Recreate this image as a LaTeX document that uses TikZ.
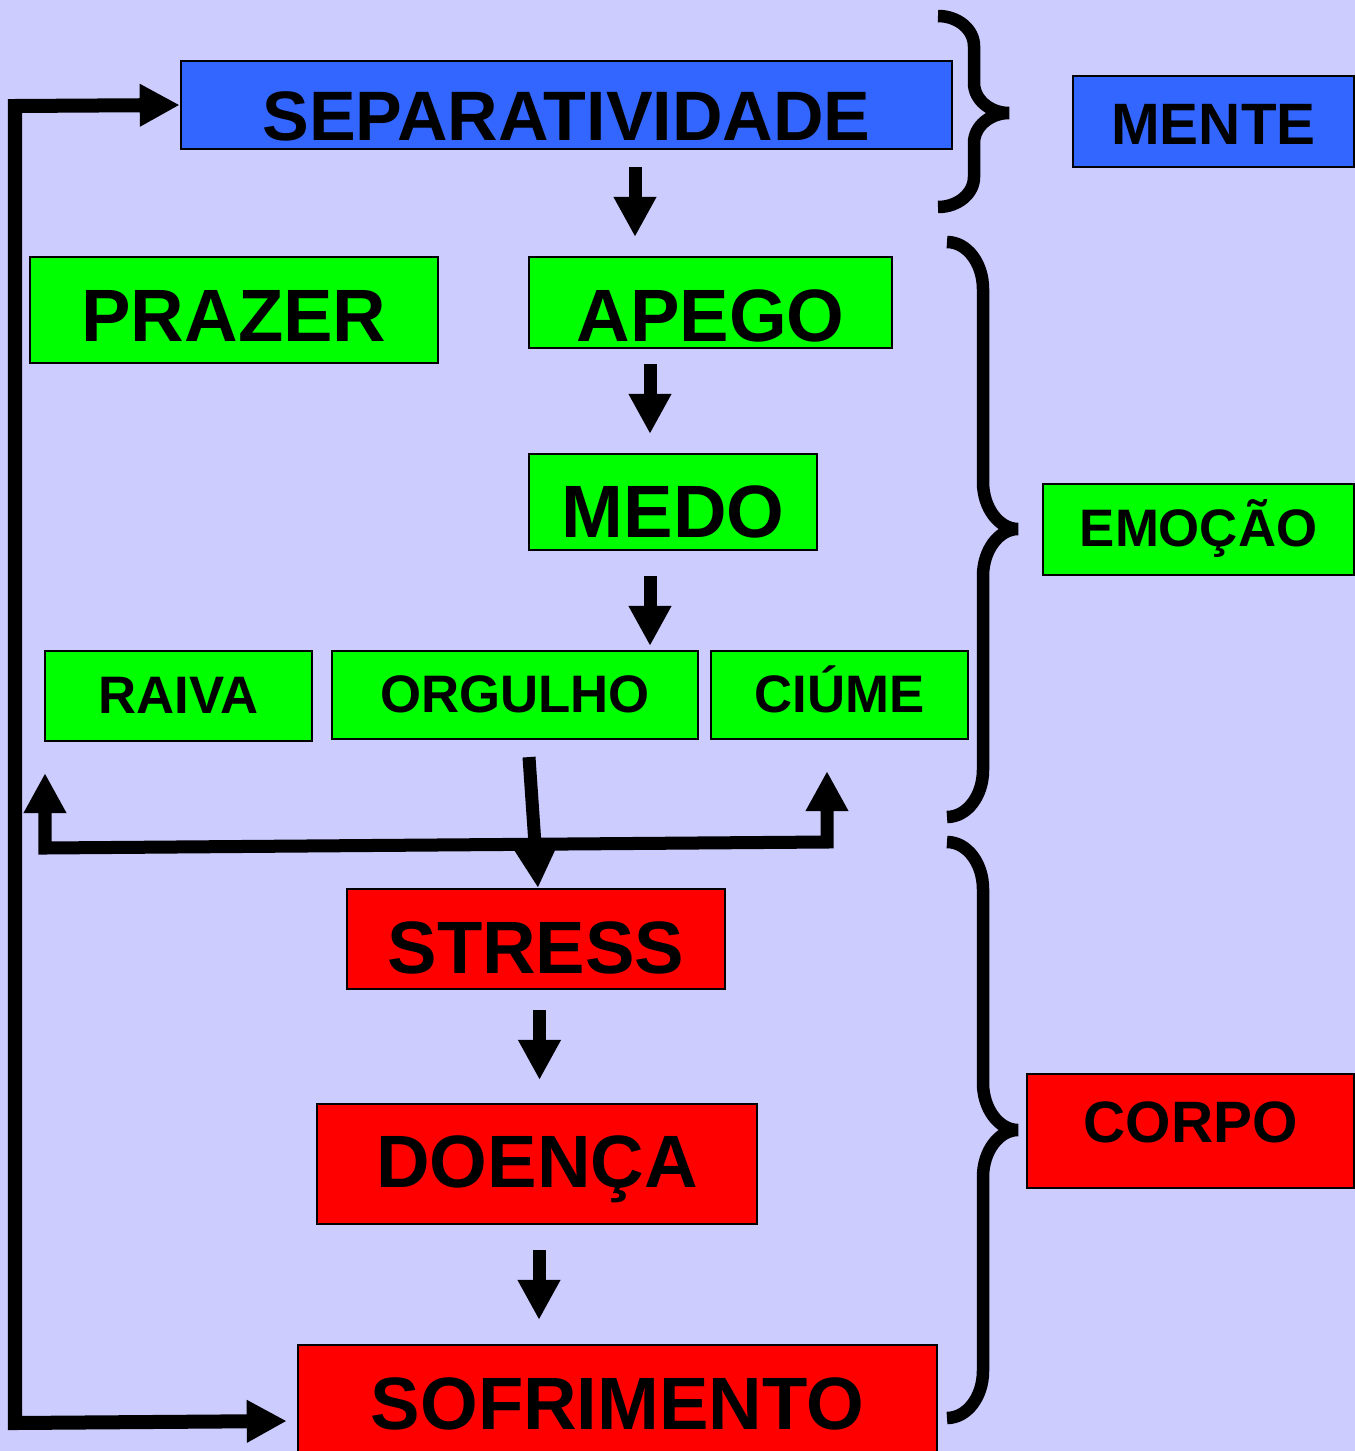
\documentclass[tikz,border=0pt]{standalone}
\usepackage{fontspec}
\setmainfont{Liberation Sans}
\usetikzlibrary{calc,arrows.meta}
\definecolor{fundo}{RGB}{204,204,255}
\definecolor{azul}{RGB}{51,102,255}
\definecolor{verde}{RGB}{0,255,0}
\definecolor{vermelho}{RGB}{255,0,0}
\def\sidebrace(#1:#2:#3:#4:#5){\draw[chave] (#1,#2) .. controls ({#1+20},#2) and ({#1+36},{#2+0.45*#5}) .. ({#1+36},{#2+#5}) -- ({#1+36},{#3-#5}) .. controls ({#1+36},{#3-0.45*#5}) and ({#1+52},#3) .. ({#1+71},#3) .. controls ({#1+52},#3) and ({#1+36},{#3+0.45*#5}) .. ({#1+36},{#3+#5}) -- ({#1+36},{#4-#5}) .. controls ({#1+36},{#4-0.45*#5}) and ({#1+20},#4) .. (#1,#4);}

\begin{document}
\begin{tikzpicture}[x=0.01cm, y=-0.01cm,
		caixa/.style={draw=black, line width=0.6pt, inner sep=0pt, text depth=0pt},
		letragrande/.style={font=\bfseries\fontsize{21.1pt}{25pt}\selectfont},
		letramedia/.style={font=\bfseries\fontsize{16.6pt}{20pt}\selectfont},
		letrapequena/.style={font=\bfseries\fontsize{15pt}{18pt}\selectfont},
		seta/.style={line width=0.13cm, -{Triangle[length=0.4cm,width=0.4cm]}},
		setas/.style={line width=0.13cm, line join=miter, {Triangle[length=0.4cm,width=0.4cm]}-{Triangle[length=0.4cm,width=0.4cm]}},
		chave/.style={line width=0.125cm}]
		%%%%% START %%%%%
		
		\fill[fundo] (0,0) rectangle (1355,1451);
		\useasboundingbox (0,0) rectangle (1355,1451);
		
		% chaves
		\sidebrace(938:16:113:207:30);
		\sidebrace(947:242:529:817:47);
		\sidebrace(947:842:1130:1418:47);
		
		% mente
		\node[caixa, fill=azul, font=\bfseries\fontsize{19.9pt}{24pt}\selectfont, minimum width=7.71cm, minimum height=0.88cm, text height=0.71cm] (sep) at (566.5,105) {SEPARATIVIDADE};
		\node[caixa, fill=azul, letramedia, minimum width=2.81cm, minimum height=0.91cm, text height=0.455cm] (mente) at (1213.5,121.5) {MENTE};
		
		% emocao
		\node[caixa, fill=verde, letragrande, minimum width=4.08cm, minimum height=1.06cm, text height=0.624cm] (prazer) at (234,310) {PRAZER};
		\node[caixa, fill=verde, letragrande, minimum width=3.63cm, minimum height=0.91cm, text height=0.774cm] (apego) at (710.5,302.5) {APEGO};
		\node[caixa, fill=verde, letragrande, minimum width=2.88cm, minimum height=0.96cm, text height=0.714cm] (medo) at (673,502) {MEDO};
		\node[caixa, fill=verde, letrapequena, minimum width=2.67cm, minimum height=0.90cm, text height=0.375cm, text depth=0.02cm] (raiva) at (178.5,696) {RAIVA};
		\node[caixa, fill=verde, letrapequena, minimum width=3.66cm, minimum height=0.88cm, text height=0.375cm, text depth=0.02cm] (orgulho) at (515,695) {ORGULHO};
		\node[caixa, fill=verde, letrapequena, minimum width=2.57cm, minimum height=0.88cm, text height=0.375cm, text depth=0.02cm] (ciume) at (839.5,695) {CIÚME};
		\node[caixa, fill=verde, letrapequena, minimum width=3.11cm, minimum height=0.91cm, text height=0.375cm, text depth=0.03cm] (emocao) at (1198.5,529.5) {EMOÇÃO};
		
		% corpo
		\node[caixa, fill=vermelho, letragrande, minimum width=3.78cm, minimum height=1.00cm, text height=0.694cm] (stress) at (536,939) {STRESS};
		\node[caixa, fill=vermelho, letragrande, minimum width=4.40cm, minimum height=1.20cm, text height=0.524cm, text depth=0.05cm] (doenca) at (537,1164) {DOENÇA};
		\node[caixa, fill=vermelho, letragrande, minimum width=6.39cm, minimum height=1.20cm, text height=0.524cm, text depth=0.03cm] (sofrimento) at (617.5,1405) {SOFRIMENTO};
		\node[caixa, fill=vermelho, letramedia, minimum width=3.27cm, minimum height=1.14cm, text height=0.415cm, text depth=0.18cm] (corpo) at (1190.5,1131) {CORPO};
		
		% setas
		\draw[seta] ($(sep.south)+(68.5,17)$) -- ($(apego.north)+(-75.5,-19)$);
		\draw[seta] ($(apego.south)+(-60.5,15)$) -- ($(medo.north)+(-23,-19)$);
		\draw[seta] ($(medo.south)+(-23,25)$) -- ($(orgulho.north)+(135,-4)$);
		\draw[seta] ($(orgulho.south)+(14,17)$) -- ($(stress.north)+(2,0)$);
		\draw[seta] ($(stress.south)+(3.5,20)$) -- ($(doenca.north)+(2.5,-23)$);
		\draw[seta] ($(doenca.south)+(2,25)$) -- ($(sofrimento.north)+(-78.5,-24)$);
		
		\coordinate (jl) at (45,848);
		\coordinate (jr) at (827,842);
		\draw[setas] ($(raiva.south)+(-133.5,31)$) -- (jl) -- (jr) -- ($(ciume.south)+(-12.5,31)$);
		
		\coordinate (lt) at (15,106);
		\coordinate (lb) at (15,1423);
		\draw[setas, line width=0.14cm] ($(sofrimento.west)+(-10,16)$) -- (lb) -- (lt) -- (sep.west);
		
		%%%%% END %%%%%
	\end{tikzpicture}
\end{document}
